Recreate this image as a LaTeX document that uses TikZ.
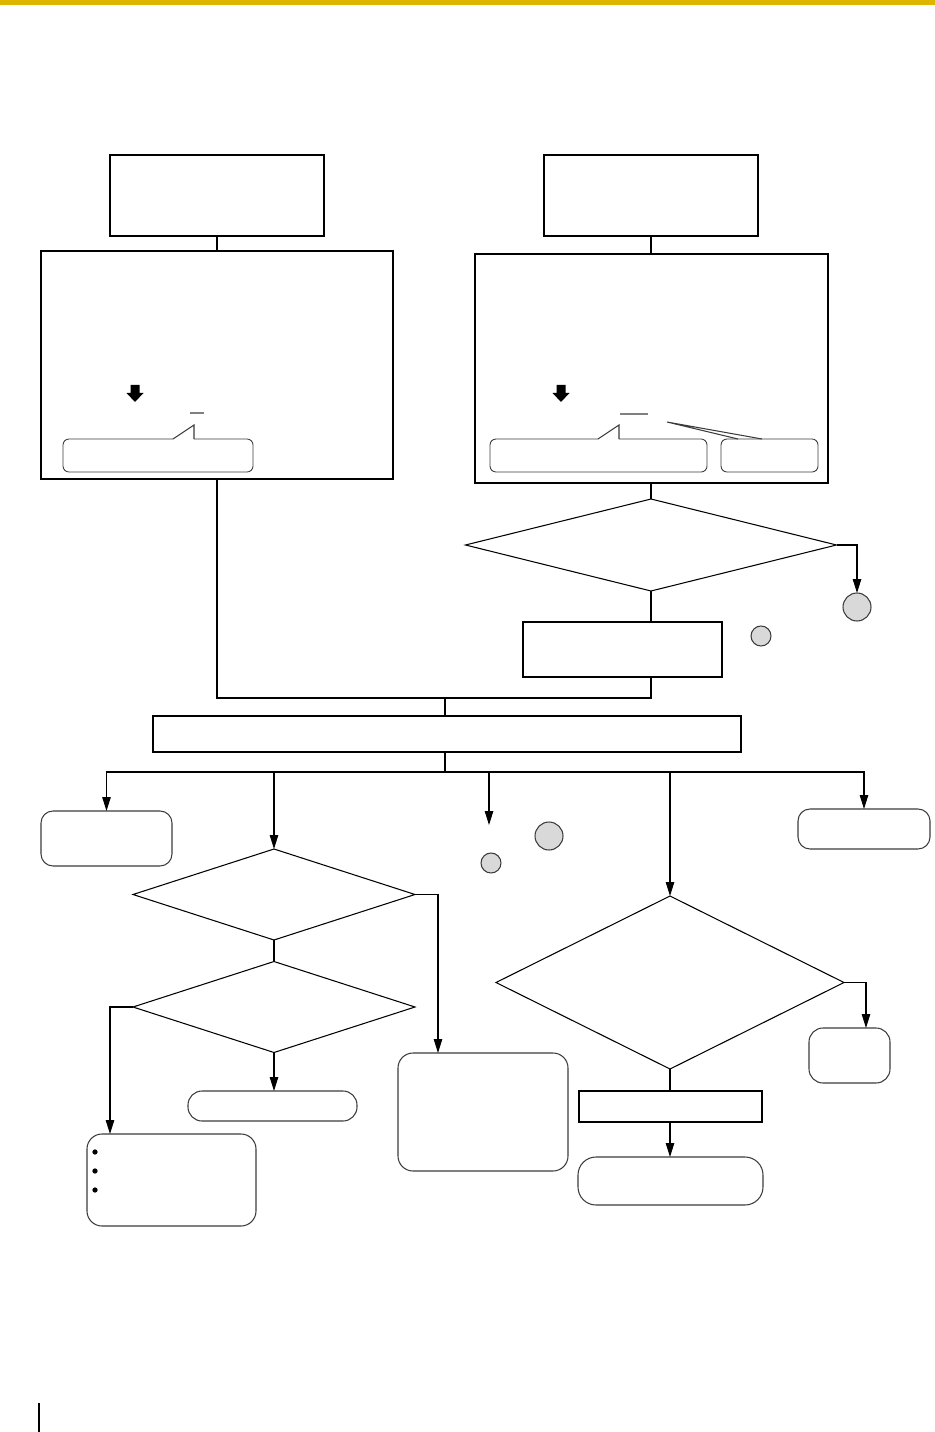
\documentclass[tikz,border=0pt]{standalone}
\usepackage{xcolor}
\usepackage{tikz}
\usetikzlibrary{calc,positioning,shapes.geometric,arrows.meta}
\definecolor{pagebar}{RGB}{222,182,0}
\definecolor{hintfill}{RGB}{217,217,217}
\definecolor{softedge}{RGB}{60,60,60}

\begin{document}
\begin{tikzpicture}[
  x=0.02cm, y=-0.02cm,
  sz/.style 2 args={minimum width=#1*0.02cm, minimum height=#2*0.02cm},
  panel/.style={draw, line width=0.6pt, inner sep=0pt, outer sep=0pt},
  soft/.style={draw=softedge, line width=0.6pt, rounded corners=#1, inner sep=0pt, outer sep=0pt},
  dec/.style={diamond, draw, line width=0.6pt, inner sep=0pt, outer sep=0pt},
  hint/.style={circle, draw=softedge, fill=hintfill, line width=0.6pt, inner sep=0pt, outer sep=0pt},
  bubble/.style={draw=softedge, line width=0.5pt, rounded corners=0.12cm},
  link/.style={line width=0.6pt},
  arr/.style={link, -{Triangle[length=0.28cm, width=0.17cm]}}
]
\useasboundingbox (0,0) rectangle (935,1432);
% page furniture: gold rule on top, side mark at the foot
\fill[pagebar] (0,0) rectangle (935,5);
\draw[line width=0.8pt] (39,1403) -- (39,1432);

% left column: header and panel with its callout
\node[panel, sz={214}{81}] (headL) at (217,195.5) {};
\node[panel, sz={352}{228}] (panelL) at (217,365) {};
\draw[link] (headL) -- (panelL);
\draw[bubble] (173,439) -- (63,439) -- (63,472) -- (253,472) -- (253,439) -- (194,439);
\draw[link, softedge] (173,439) -- (194,425) -- (194,439);
\draw[gray, line width=0.6pt] (190,413) -- (204,413);

% right column: header, panel with two callouts, then the check
\node[panel, sz={214}{81}] (headR) at (651,195.5) {};
\node[panel, sz={353}{229}] (panelR) at (651.5,368.5) {};
\draw[link] (headR.south) -- (headR.south |- panelR.north);
\draw[bubble] (598,439) -- (490,439) -- (490,472) -- (707,472) -- (707,439) -- (619,439);
\draw[link, softedge] (598,439) -- (619,425) -- (619,439);
\draw[bubble] (721,439) rectangle (818,472);
\draw[link, softedge] (738,439) -- (667,422) -- (762,439);
\draw[gray, line width=0.6pt] (620,414) -- (648,414);
% block arrows inside both panels
\foreach \cx in {135, 561} {
  \fill (\cx-4.5,385) -- (\cx+4.5,385) -- (\cx+4.5,393) -- (\cx+8.5,393) -- (\cx,402)
    -- (\cx-8.5,393) -- (\cx-4.5,393) -- cycle;
}
\node[dec, sz={371}{92}] (askR) at (651,545) {};
\draw[link] (askR.north |- panelR.south) -- (askR.north);
\node[hint, minimum size=0.56cm] (exitR) at (857,607) {};
\draw[arr] (askR.east) -| (exitR.north);
\node[hint, minimum size=0.4cm] (noteR) at (761,636) {};
\node[panel, sz={199}{55}] (stepR) at (622.5,649.5) {};
\draw[link] (askR.south) -- (askR.south |- stepR.north);

% both columns join on the wide bar
\coordinate (merge) at (445,698);
\node[panel, sz={588}{36}] (wide) at (447,734) {};
\draw[link] (panelL.south) |- (merge);
\draw[link] (askR.south |- stepR.south) |- (merge) -- (merge |- wide.north);
\coordinate (bus) at (445,772);
\draw[link] (merge |- wide.south) -- (bus);

% branches off the bus
\node[soft=0.24cm, sz={131}{55}] (outA) at (106.5,838.5) {};
\node[soft=0.24cm, sz={132}{40}] (outE) at (864,829) {};
\coordinate (tipC) at (489,825);
\draw[arr] (bus) -| (outA.north);
\draw[arr] (bus) -| (outE.north);
\draw[arr] (bus) -| (tipC);
\node[hint, minimum size=0.56cm] (noteC) at (549,836) {};
\node[hint, minimum size=0.4cm] (noteD) at (491,863) {};

% second branch: two checks in a row
\node[dec, sz={282}{91}] (askB) at (274,894.5) {};
\draw[arr] (bus) -| (askB.north);
\node[dec, sz={282}{91}] (askB2) at (274,1007) {};
\draw[link] (askB) -- (askB2);
\node[soft=0.3cm, sz={170}{118}] (outB) at (483,1112) {};
\draw[arr] (askB.east) -| ([xshift=0.8cm]outB.north west);
\node[soft=0.28cm, sz={169}{30}] (outB2) at (272.5,1106) {};
\draw[arr] (askB2.south) -- (askB2.south |- outB2.north);
\node[soft=0.3cm, sz={169}{92}] (outB3) at (171.5,1180) {};
\draw[arr] (askB2.west) -| ([xshift=0.46cm]outB3.north west);
\foreach \y in {1152, 1171, 1190} {
  \fill (95,\y) circle (1.5pt);
}

% fourth branch: the large check
\node[dec, sz={348}{173}] (askD) at (670,982.5) {};
\draw[arr] (bus) -| (askD.north);
\node[soft=0.28cm, sz={81}{55}] (outD) at (849.5,1055.5) {};
\draw[arr] (askD.east) -| ([xshift=1.14cm]outD.north west);
\node[panel, sz={183}{31}] (stepD) at (670.5,1106.5) {};
\draw[link] (askD.south) -- (askD.south |- stepD.north);
\node[soft=0.36cm, sz={185}{48}] (outD2) at (670.5,1181) {};
\draw[arr] (askD.south |- stepD.south) -- (askD.south |- outD2.north);
\end{tikzpicture}
\end{document}
